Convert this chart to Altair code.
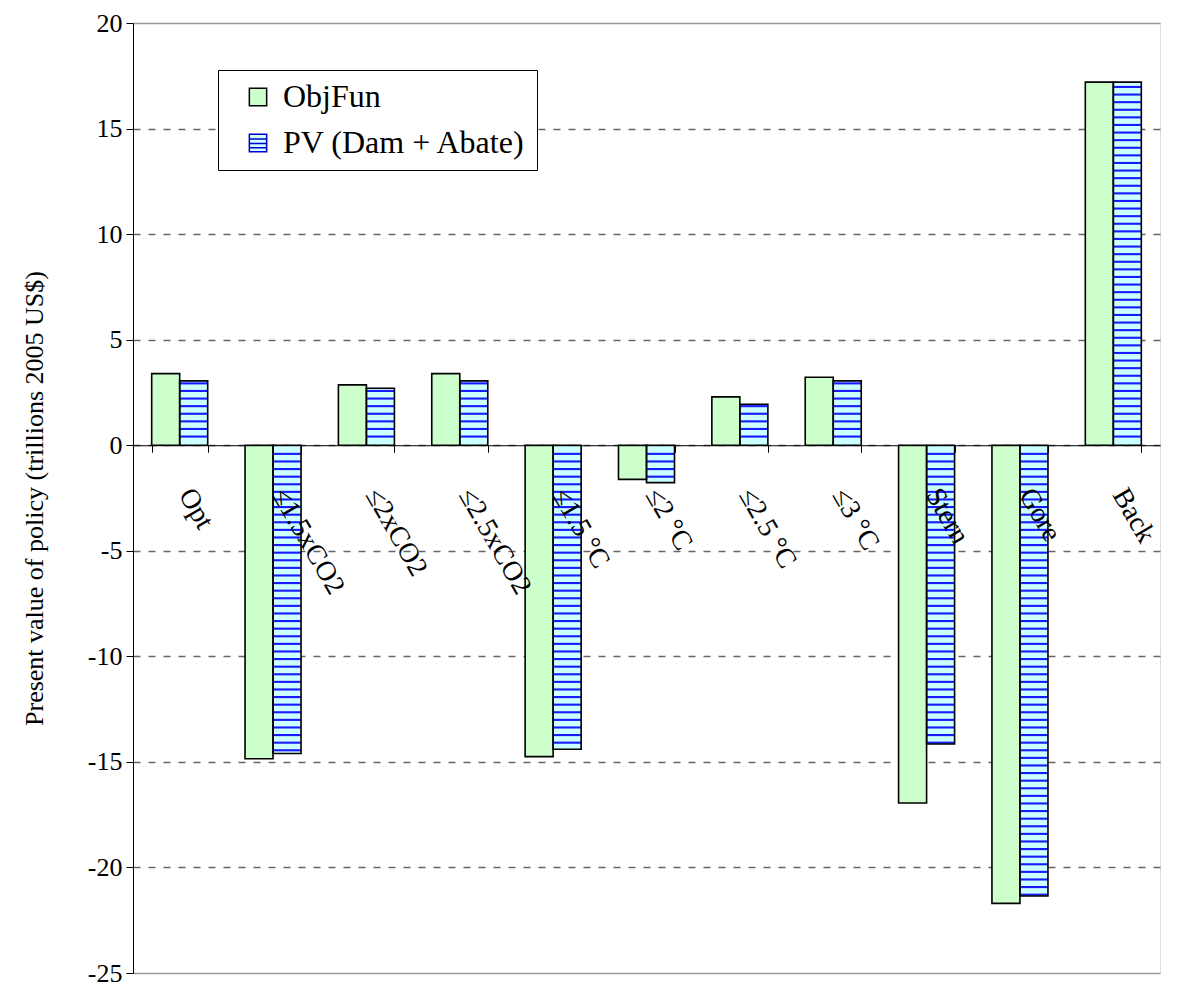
import altair as alt
import pandas as pd

# ---- data ----
categories = ["Opt", "≤1.5xCO2", "≤2xCO2", "≤2.5xCO2", "≤1.5 °C", "≤2 °C",
              "≤2.5 °C", "≤3 °C", "Stern", "Gore", "Back"]
series_names = ["ObjFun", "PV (Dam + Abate)"]
objfun = [3.39, -14.85, 2.86, 3.39, -14.75, -1.62, 2.29, 3.22, -16.95, -21.7, 17.2]
pv = [3.05, -14.6, 2.7, 3.05, -14.4, -1.77, 1.94, 3.05, -14.15, -21.35, 17.2]
y_ticks = [-25, -20, -15, -10, -5, 0, 5, 10, 15, 20]
y_title = "Present value of policy (trillions 2005 US$)"

rows = []
for c, a, b in zip(categories, objfun, pv):
    rows.append({"cat": c, "series": series_names[0], "value": a})
    rows.append({"cat": c, "series": series_names[1], "value": b})
df = pd.DataFrame(rows)

# horizontal-stripe fill pattern for the second series
STEP = 0.36
THICK = 0.1
srows = []
for c, b in zip(categories, pv):
    sgn = 1 if b >= 0 else -1
    k = 1
    while k * STEP + THICK < abs(b):
        y0 = sgn * k * STEP
        srows.append({"cat": c, "series": series_names[1], "y0": y0, "y1": y0 + sgn * THICK})
        k += 1
sdf = pd.DataFrame(srows)

FONT = "Liberation Serif"
W, H = 1027, 950
ymin, ymax = y_ticks[0], y_ticks[-1]
zero_off = H * (0 - ymin) / (ymax - ymin)

x_axis = alt.Axis(title=None, orient="bottom", offset=-zero_off, labelAngle=60,
                  labelAlign="left", labelBaseline="middle", labelPadding=38,
                  labelOffset=5, tickBand="extent", tickSize=7, tickColor="black",
                  domainColor="black", labelFont=FONT, labelFontSize=28,
                  labelColor="black", grid=False, zindex=1)
x_enc = alt.X("cat:N", sort=categories,
              scale=alt.Scale(paddingInner=0.4, paddingOuter=0.2), axis=x_axis)
xo_enc = alt.XOffset("series:N", sort=series_names,
                     scale=alt.Scale(paddingInner=0, paddingOuter=0))
y_scale = alt.Scale(domain=[ymin, ymax], nice=False, zero=False)
edge_test = f"datum.value == {ymin} || datum.value == {ymax}"
y_axis = alt.Axis(values=y_ticks, title=y_title, tickSize=7, tickColor="black",
                  domainColor="black", labelFont=FONT, labelFontSize=26,
                  labelColor="black", labelPadding=4,
                  labelExpr="(datum.value < 0 ? '-' : '') + abs(datum.value)",
                  titleFont=FONT, titleFontSize=26, titleFontWeight="normal",
                  titleColor="black", titlePadding=40, grid=True,
                  gridColor={"condition": {"test": edge_test, "value": "#999999"},
                             "value": "#666666"},
                  gridDash={"condition": {"test": edge_test, "value": []},
                            "value": [7, 8]},
                  gridWidth=1.5)

fill_scale = alt.Scale(domain=series_names, range=["#CCFFCC", "#CCFFFF"])
legend = alt.Legend(title=None, orient="none", legendX=85, legendY=47,
                    strokeColor="black", fillColor="white", padding=11,
                    labelFont=FONT, labelFontSize=32, labelColor="black",
                    labelExpr="datum.label + '  '",
                    symbolSize=300, symbolStrokeWidth=1.5, symbolOpacity=1,
                    symbolOffset=13, rowPadding=14, labelOffset=9, labelLimit=0)

base = alt.Chart(df).mark_bar(strokeWidth=0).encode(
    x=x_enc, xOffset=xo_enc,
    y=alt.Y("value:Q", scale=y_scale, axis=y_axis),
    fill=alt.Fill("series:N", scale=fill_scale, legend=legend),
)

stripes = alt.Chart(sdf).mark_bar(color="#1A1AFF", strokeWidth=0).encode(
    x=x_enc, xOffset=xo_enc,
    y=alt.Y("y0:Q", scale=y_scale), y2="y1:Q",
)

outline = alt.Chart(df).mark_bar(fillOpacity=0, stroke="black", strokeWidth=1.6).encode(
    x=x_enc, xOffset=xo_enc,
    y=alt.Y("value:Q", scale=y_scale),
)

shape_scale = alt.Scale(domain=series_names,
                        range=["M-1,-1H1V1H-1Z",
                               "M-1,-1H1V1H-1Z M-1,-0.45H1 M-1,0.05H1 M-1,0.55H1"])
stroke_scale = alt.Scale(domain=series_names, range=["#000000", "#0000CC"])
legend_pts = alt.Chart(df).mark_point(filled=True, opacity=0).encode(
    x=x_enc, xOffset=xo_enc,
    y=alt.Y("value:Q", scale=y_scale),
    fill=alt.Fill("series:N", scale=fill_scale, legend=legend),
    shape=alt.Shape("series:N", scale=shape_scale, legend=legend),
    stroke=alt.Stroke("series:N", scale=stroke_scale, legend=legend),
)

chart = alt.layer(base, stripes, outline, legend_pts).properties(
    width=W, height=H,
    autosize=alt.AutoSizeParams(type="none"),
    padding={"left": 125, "top": 15, "right": 22, "bottom": 13},
).configure_view(stroke=None).configure(background="white")

chart.save("out.html", embed_options={"renderer": "svg", "actions": False})
